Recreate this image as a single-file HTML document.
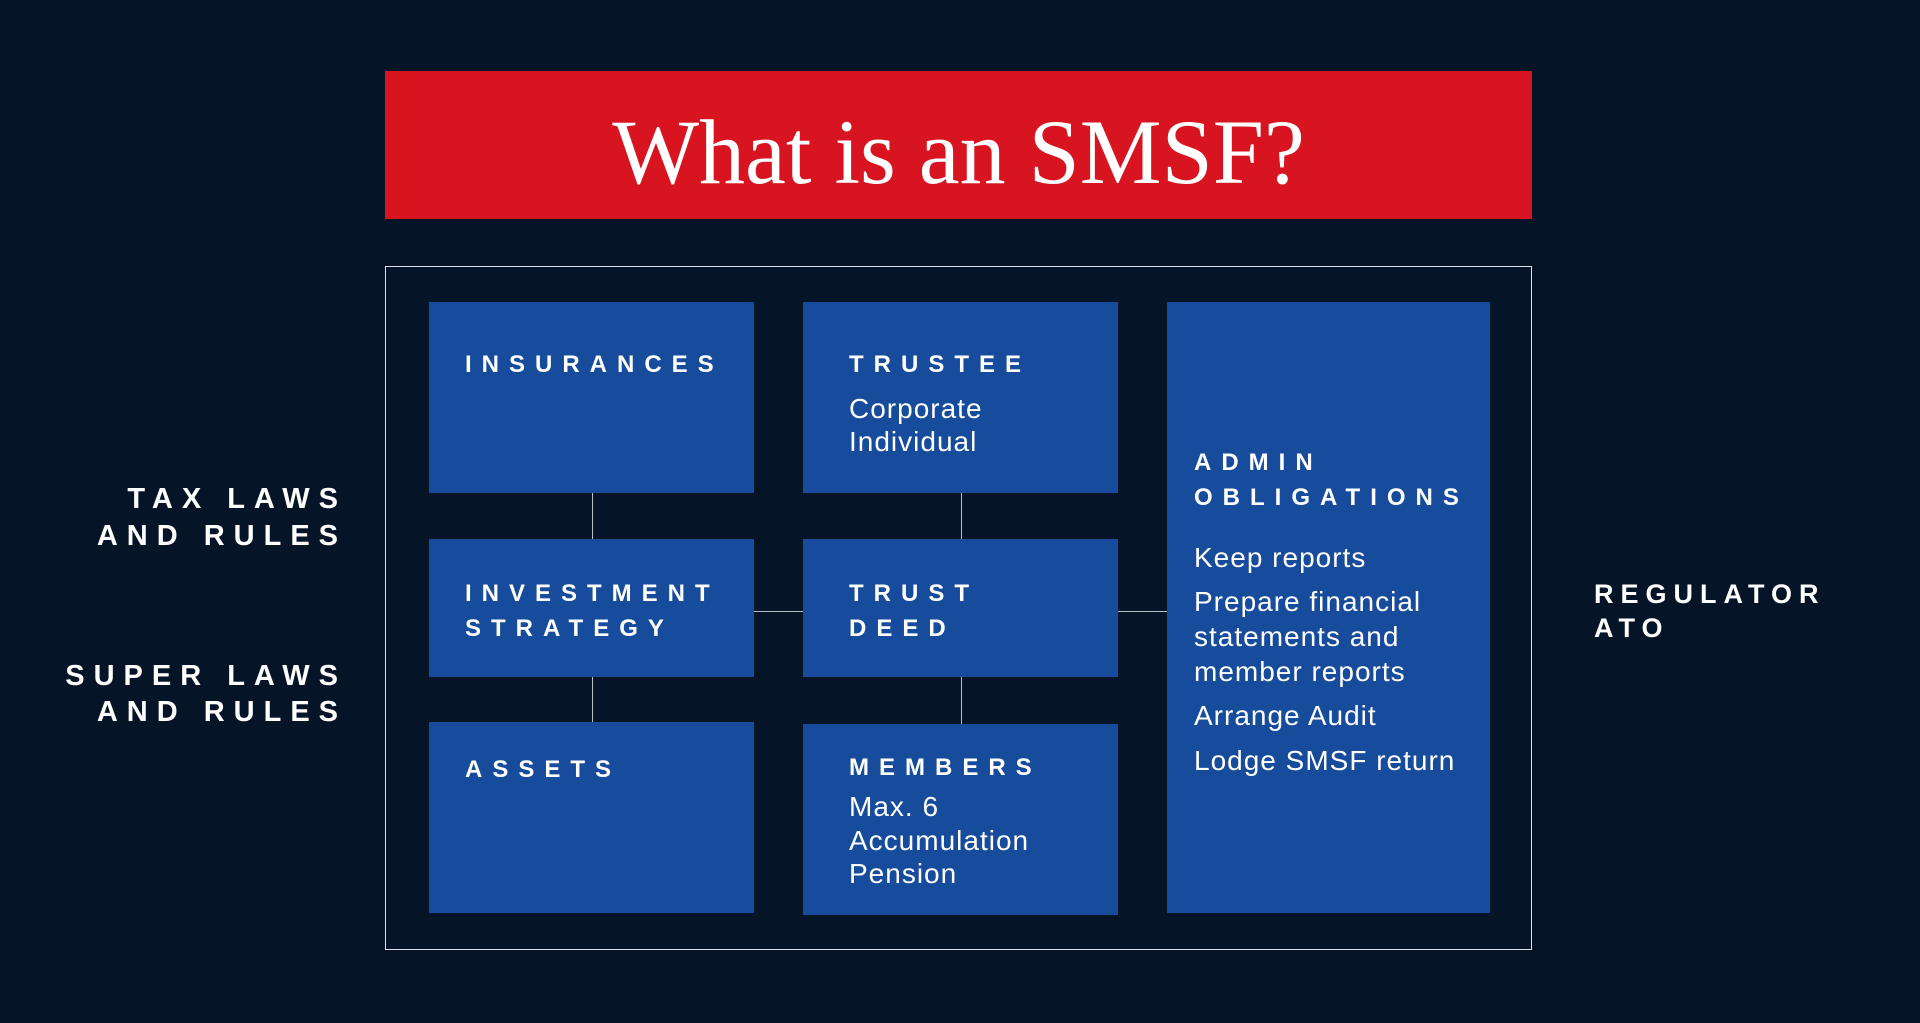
<!DOCTYPE html>
<html><head><meta charset="utf-8"><style>
body{margin:0;width:1920px;height:1023px;background:#061428;position:relative;overflow:hidden;font-family:"Liberation Sans",sans-serif;color:#fff}
div{position:absolute}
.b{background:#174b9b}
.h{font-size:24px;line-height:24px;font-weight:bold;letter-spacing:10px;white-space:nowrap}
.t{font-size:28px;line-height:28px;letter-spacing:1px;white-space:nowrap}
.l{font-size:29px;line-height:29px;font-weight:bold;letter-spacing:9px;white-space:nowrap}
.r{font-size:27px;line-height:29px;font-weight:bold;letter-spacing:7px;white-space:nowrap}
.vl{width:1px;background:#b8c0cc}
.hl{height:1px;background:#b8c0cc}
</style></head><body>
<div style="left:385px;top:71px;width:1147px;height:148px;background:#d71420"></div>
<div style="left:385px;top:106px;width:1147px;text-align:center;font-family:'Liberation Serif',serif;font-size:92px;line-height:92px;color:#fff">What is an SMSF?</div>
<div style="left:385px;top:266px;width:1145px;height:682px;border:1px solid #e0e4ea"></div>

<div class="vl" style="left:592px;top:493px;height:46px"></div>
<div class="vl" style="left:592px;top:677px;height:45px"></div>
<div class="vl" style="left:961px;top:493px;height:46px"></div>
<div class="vl" style="left:961px;top:677px;height:47px"></div>
<div class="hl" style="left:754px;top:611px;width:49px"></div>
<div class="hl" style="left:1118px;top:611px;width:49px"></div>

<div class="b" style="left:429px;top:302px;width:325px;height:191px"></div>
<div class="b" style="left:803px;top:302px;width:315px;height:191px"></div>
<div class="b" style="left:1167px;top:302px;width:323px;height:611px"></div>
<div class="b" style="left:429px;top:539px;width:325px;height:138px"></div>
<div class="b" style="left:803px;top:539px;width:315px;height:138px"></div>
<div class="b" style="left:429px;top:722px;width:325px;height:191px"></div>
<div class="b" style="left:803px;top:724px;width:315px;height:191px"></div>

<div class="h" style="left:465px;top:353px">INSURANCES</div>
<div class="h" style="left:849px;top:353px">TRUSTEE</div>
<div class="t" style="left:849px;top:395px">Corporate</div>
<div class="t" style="left:849px;top:428px">Individual</div>
<div class="h" style="left:465px;top:582px">INVESTMENT</div>
<div class="h" style="left:465px;top:617px">STRATEGY</div>
<div class="h" style="left:849px;top:582px">TRUST</div>
<div class="h" style="left:849px;top:617px">DEED</div>
<div class="h" style="left:465px;top:758px">ASSETS</div>
<div class="h" style="left:849px;top:756px">MEMBERS</div>
<div class="t" style="left:849px;top:793px">Max. 6</div>
<div class="t" style="left:849px;top:827px">Accumulation</div>
<div class="t" style="left:849px;top:860px">Pension</div>

<div class="h" style="left:1194px;top:451px">ADMIN</div>
<div class="h" style="left:1194px;top:486px">OBLIGATIONS</div>
<div class="t" style="left:1194px;top:544px">Keep reports</div>
<div class="t" style="left:1194px;top:588px">Prepare financial</div>
<div class="t" style="left:1194px;top:623px">statements and</div>
<div class="t" style="left:1194px;top:658px">member reports</div>
<div class="t" style="left:1194px;top:702px">Arrange Audit</div>
<div class="t" style="left:1194px;top:747px">Lodge SMSF return</div>

<div class="l" style="right:1573px;top:485px">TAX LAWS</div>
<div class="l" style="right:1573px;top:522px">AND RULES</div>
<div class="l" style="right:1573px;top:662px">SUPER LAWS</div>
<div class="l" style="right:1573px;top:698px">AND RULES</div>
<div class="r" style="left:1594px;top:580px">REGULATOR</div>
<div class="r" style="left:1594px;top:614px">ATO</div>
</body></html>
